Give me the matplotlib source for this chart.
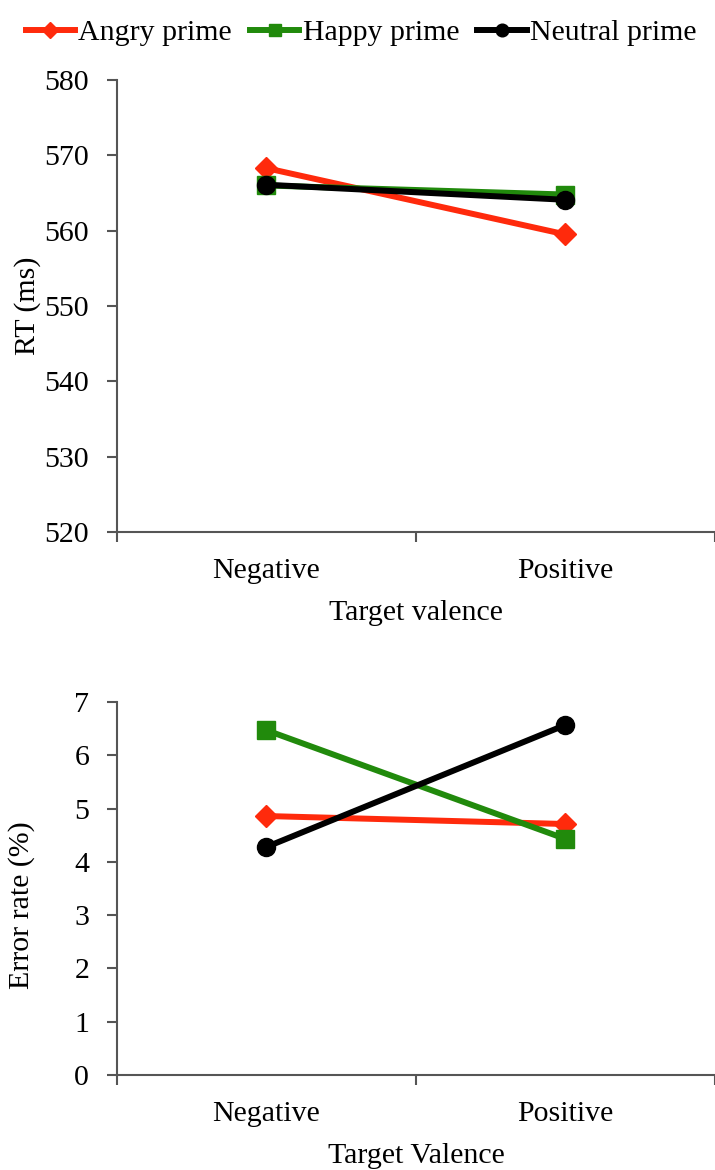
import matplotlib.pyplot as plt
import numpy as np

categories = ['Negative', 'Positive']
series_names = ['Angry prime', 'Happy prime', 'Neutral prime']

rt_angry = [568.3, 559.5]
rt_happy = [566.0, 564.8]
rt_neutral = [566.1, 564.1]

err_angry = [4.86, 4.71]
err_happy = [6.47, 4.43]
err_neutral = [4.28, 6.57]

plt.rcParams['font.family'] = ['Liberation Serif', 'DejaVu Serif']
plt.rcParams['font.size'] = 21.5

colors = ['#ff2a0c', '#218a0c', '#000000']
markers = ['D', 's', 'o']
msizes = [11, 12.5, 13]
spine_color = '#555555'

fig = plt.figure(figsize=(7.15, 11.7), dpi=100)
ax1 = fig.add_axes([0.1636, 0.5453, 0.8364, 0.3863])
ax2 = fig.add_axes([0.1636, 0.0812, 0.8364, 0.3188])

x = np.arange(len(categories))


def style_axis(ax, ylim, yticks, ylabel, xlabel, ylab_pos):
    ax.set_xlim(-0.5, 1.5)
    ax.set_ylim(*ylim)
    ax.set_yticks(yticks)
    ax.set_xticks([-0.5, 0.5, 1.5])
    ax.set_xticklabels([])
    ax.set_xticks(x, minor=True)
    ax.set_xticklabels(categories, minor=True)
    ax.tick_params(axis='x', which='minor', length=0, pad=19)
    ax.tick_params(axis='x', which='major', length=7, width=1.5, color=spine_color)
    ax.tick_params(axis='y', length=7, width=1.5, color=spine_color, pad=13)
    for s in ['top', 'right']:
        ax.spines[s].set_visible(False)
    for s in ['left', 'bottom']:
        ax.spines[s].set_color(spine_color)
        ax.spines[s].set_linewidth(1.5)
    ax.set_ylabel(ylabel, va='center')
    ax.yaxis.set_label_coords(*ylab_pos)
    ax.set_xlabel(xlabel, labelpad=11)


lines = []
for vals, c, m, ms, name in zip([rt_angry, rt_happy, rt_neutral], colors, markers, msizes, series_names):
    ln, = ax1.plot(x, vals, color=c, marker=m, markersize=ms, linewidth=4.3, label=name, clip_on=False)
    lines.append(ln)
style_axis(ax1, (520, 580), np.arange(520, 581, 10), 'RT (ms)', 'Target valence', (-0.15, 0.5))

for vals, c, m, ms in zip([err_angry, err_happy, err_neutral], colors, markers, msizes):
    ax2.plot(x, vals, color=c, marker=m, markersize=ms, linewidth=4.3, clip_on=False)
style_axis(ax2, (0, 7), np.arange(0, 8, 1), 'Error rate (%)', 'Target Valence', (-0.159, 0.456))

fig.legend(handles=lines, loc='center', bbox_to_anchor=(0.505, 0.9718), ncol=3, frameon=False,
           handlelength=1.65, handletextpad=0.12, columnspacing=0.6, fontsize=21.5,
           markerscale=0.7)

fig.savefig('out.png', dpi=100)
